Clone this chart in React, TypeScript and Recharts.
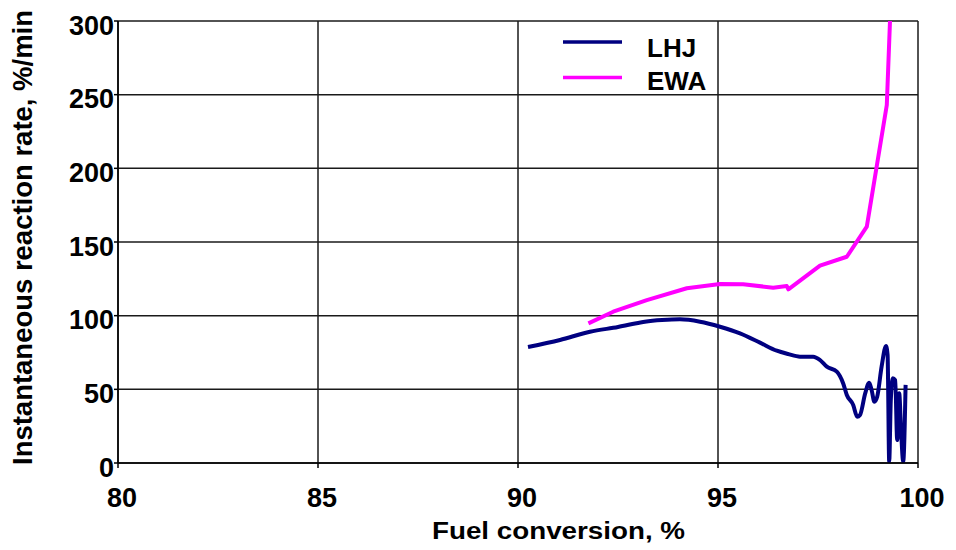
import React from "react";
import { LineChart, Line, XAxis, YAxis, CartesianGrid, Legend } from "recharts";

// LHJ: fuel conversion (%) and instantaneous reaction rate (%/min)
const lhjConversion = [
  90.25, 91.05, 91.8, 92.5, 93.17, 93.6, 94.05, 94.55, 95.05, 95.55, 96.05, 96.47,
  96.75, 97.05, 97.38, 97.55, 97.72, 97.97, 98.13, 98.22, 98.38, 98.48, 98.55, 98.68,
  98.78, 98.84, 98.91, 98.98, 99.09, 99.2, 99.24, 99.28, 99.32, 99.37, 99.43, 99.48,
  99.53, 99.58, 99.63, 99.69,
];
const lhjRate = [
  78.7, 83.5, 89.1, 92.3, 95.9, 97.0, 97.5, 95.9, 92.5, 88.0, 81.7, 76.2,
  74.0, 72.2, 72.2, 69.9, 65.4, 62.0, 54.0, 46.2, 39.4, 31.4, 32.6, 47.3,
  54.5, 49.5, 41.6, 45.0, 65.4, 79.4, 73.3, 1.0, 42.8, 57.5, 56.3, 15.6,
  47.3, 20.0, 1.0, 53.0,
];

// EWA: fuel conversion (%) and instantaneous reaction rate (%/min)
const ewaConversion = [
  91.76, 92.38, 93.22, 94.22, 95.05, 95.63, 96.38, 96.72, 96.76, 97.55, 98.22, 98.72,
  99.22, 99.3,
];
const ewaRate = [
  94.8, 102.7, 110.6, 118.6, 121.5, 121.3, 119.0, 120.1, 117.9, 133.9, 140.0, 160.4,
  243.0, 300.0,
];

const xTicks = [80, 85, 90, 95, 100];
const yTicks = [0, 50, 100, 150, 200, 250, 300];

const seriesNames = ["LHJ", "EWA"];
const seriesColors = ["#000080", "#FF00FF"];

const lhjData = lhjConversion.map((x, i) => ({ x, y: lhjRate[i] }));
const ewaData = ewaConversion.map((x, i) => ({ x, y: ewaRate[i] }));

const FONT = "'Liberation Sans', Arial, Helvetica, sans-serif";
const textStyle = { fontFamily: FONT, fontWeight: 700, fill: "#000" };
const tickStyle = { ...textStyle, fontSize: 27 };

const LegendBox = () => (
  <svg width={170} height={72} style={{ overflow: "visible" }}>
    {seriesNames.map((name, i) => {
      const lineY = i === 0 ? 17 : 52.5;
      const textY = i === 0 ? 32 : 65;
      return (
        <g key={name}>
          <line x1={8} x2={67} y1={lineY} y2={lineY} stroke={seriesColors[i]} strokeWidth={3.5} />
          <text x={92} y={textY} style={{ ...textStyle, fontSize: 26 }}>
            {name}
          </text>
        </g>
      );
    })}
  </svg>
);

export default function App() {
  return (
    <div style={{ position: "absolute", left: 0, top: 0, background: "#fff" }}>
      <LineChart
        width={956}
        height={550}
        margin={{ top: 21, right: 38, bottom: 0, left: 0 }}
      >
        <CartesianGrid stroke="#1a1a1a" strokeWidth={1.5} strokeOpacity={1} />
        <XAxis
          type="number"
          dataKey="x"
          domain={[80, 100]}
          ticks={xTicks}
          allowDataOverflow
          height={87}
          axisLine={{ stroke: "#000", strokeWidth: 1.5 }}
          tickLine={{ stroke: "#000", strokeWidth: 1.5 }}
          tickSize={5}
          tickMargin={20}
          tick={{ ...tickStyle, dx: 4 }}
          label={(props: any) => {
            const vb = props.viewBox;
            return (
              <text
                x={558.5}
                y={vb.y + 75.5}
                textAnchor="middle"
                textLength={253}
                lengthAdjust="spacingAndGlyphs"
                style={{ ...textStyle, fontSize: 23.5 }}
              >
                Fuel conversion, %
              </text>
            );
          }}
        />
        <YAxis
          type="number"
          dataKey="y"
          domain={[0, 300]}
          ticks={yTicks}
          allowDataOverflow
          width={118}
          axisLine={{ stroke: "#000", strokeWidth: 1.5 }}
          tickLine={{ stroke: "#000", strokeWidth: 1.5 }}
          tickSize={4}
          tickMargin={0}
          tick={{ ...tickStyle, dy: 4 }}
          label={(props: any) => {
            const vb = props.viewBox;
            const cx = vb.x + 22;
            const cy = 237.5;
            return (
              <text
                x={cx}
                y={cy}
                textAnchor="middle"
                dominantBaseline="central"
                textLength={455}
                lengthAdjust="spacingAndGlyphs"
                transform={`rotate(-90 ${cx} ${cy})`}
                style={{ ...textStyle, fontSize: 27.5 }}
              >
                Instantaneous reaction rate, %/min
              </text>
            );
          }}
        />
        <Legend
          layout="vertical"
          align="center"
          verticalAlign="middle"
          wrapperStyle={{ position: "absolute", left: 555, top: 25, width: 170, height: 72 }}
          content={() => <LegendBox />}
        />
        <Line
          data={lhjData}
          dataKey="y"
          name="LHJ"
          type="monotone"
          stroke={seriesColors[0]}
          strokeWidth={4}
          strokeLinejoin="round"
          dot={false}
          activeDot={false}
          isAnimationActive={false}
        />
        <Line
          data={ewaData}
          dataKey="y"
          name="EWA"
          type="linear"
          stroke={seriesColors[1]}
          strokeWidth={4}
          strokeLinejoin="round"
          dot={false}
          activeDot={false}
          isAnimationActive={false}
        />
      </LineChart>
    </div>
  );
}
